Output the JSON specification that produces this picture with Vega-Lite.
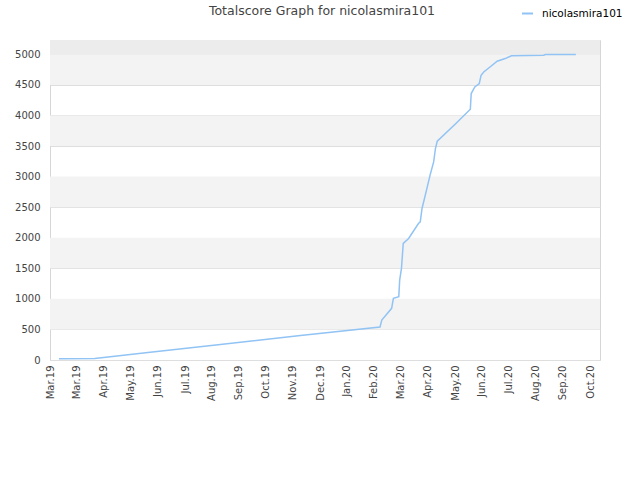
{
  "$schema": "https://vega.github.io/schema/vega-lite/v6.json",
  "width": 550,
  "height": 320,
  "autosize": {"type": "none"},
  "padding": {"left": 50, "top": 40, "right": 40, "bottom": 120},
  "background": "white",
  "title": {"text": "Totalscore Graph for nicolasmira101", "anchor": "middle", "fontSize": 12.5, "fontWeight": "normal", "color": "#444444", "font": "DejaVu Sans", "offset": 0, "dy": 10, "dx": -3},
  "config": {
    "view": {"stroke": "#d6d6d6", "strokeWidth": 1},
    "font": "DejaVu Sans",
    "axisY": {
      "title": null, "values": [0, 500, 1000, 1500, 2000, 2500, 3000, 3500, 4000, 4500, 5000], "format": "d",
      "labelFontSize": 10, "labelColor": "#444444", "labelPadding": 10, "ticks": false, "domain": false,
      "grid": true, "gridColor": "#dedede", "gridWidth": 1
    }
  },
  "datasets": {
    "bands": [
      {"lo": 500, "hi": 1000, "kind": "a"},
      {"lo": 1500, "hi": 2000, "kind": "a"},
      {"lo": 2500, "hi": 3000, "kind": "a"},
      {"lo": 3500, "hi": 4000, "kind": "a"},
      {"lo": 4500, "hi": 5000, "kind": "a"},
      {"lo": 5000, "hi": 5234, "kind": "b"}
    ],
    "scores": [
      {"date": "2019-03-11", "score": 20, "player": "nicolasmira101"},
      {"date": "2019-04-20", "score": 25, "player": "nicolasmira101"},
      {"date": "2019-06-21", "score": 126, "player": "nicolasmira101"},
      {"date": "2019-09-05", "score": 250, "player": "nicolasmira101"},
      {"date": "2019-12-06", "score": 400, "player": "nicolasmira101"},
      {"date": "2020-03-04", "score": 540, "player": "nicolasmira101"},
      {"date": "2020-03-06", "score": 654, "player": "nicolasmira101"},
      {"date": "2020-03-17", "score": 845, "player": "nicolasmira101"},
      {"date": "2020-03-19", "score": 1008, "player": "nicolasmira101"},
      {"date": "2020-03-25", "score": 1035, "player": "nicolasmira101"},
      {"date": "2020-03-26", "score": 1307, "player": "nicolasmira101"},
      {"date": "2020-03-28", "score": 1498, "player": "nicolasmira101"},
      {"date": "2020-03-30", "score": 1907, "player": "nicolasmira101"},
      {"date": "2020-04-05", "score": 1988, "player": "nicolasmira101"},
      {"date": "2020-04-16", "score": 2233, "player": "nicolasmira101"},
      {"date": "2020-04-18", "score": 2260, "player": "nicolasmira101"},
      {"date": "2020-04-20", "score": 2478, "player": "nicolasmira101"},
      {"date": "2020-04-25", "score": 2778, "player": "nicolasmira101"},
      {"date": "2020-04-29", "score": 3023, "player": "nicolasmira101"},
      {"date": "2020-05-03", "score": 3240, "player": "nicolasmira101"},
      {"date": "2020-05-05", "score": 3459, "player": "nicolasmira101"},
      {"date": "2020-05-07", "score": 3578, "player": "nicolasmira101"},
      {"date": "2020-05-27", "score": 3856, "player": "nicolasmira101"},
      {"date": "2020-06-13", "score": 4101, "player": "nicolasmira101"},
      {"date": "2020-06-14", "score": 4358, "player": "nicolasmira101"},
      {"date": "2020-06-18", "score": 4466, "player": "nicolasmira101"},
      {"date": "2020-06-23", "score": 4520, "player": "nicolasmira101"},
      {"date": "2020-06-25", "score": 4657, "player": "nicolasmira101"},
      {"date": "2020-06-28", "score": 4711, "player": "nicolasmira101"},
      {"date": "2020-07-05", "score": 4793, "player": "nicolasmira101"},
      {"date": "2020-07-13", "score": 4886, "player": "nicolasmira101"},
      {"date": "2020-07-22", "score": 4930, "player": "nicolasmira101"},
      {"date": "2020-07-29", "score": 4976, "player": "nicolasmira101"},
      {"date": "2020-09-03", "score": 4984, "player": "nicolasmira101"},
      {"date": "2020-09-05", "score": 4995, "player": "nicolasmira101"},
      {"date": "2020-10-09", "score": 4995, "player": "nicolasmira101"}
    ]
  },
  "layer": [
    {
      "data": {"name": "bands"},
      "transform": [{"filter": "datum.kind === 'a'"}],
      "mark": {"type": "rect", "color": "#f3f3f3"},
      "encoding": {
        "y": {"field": "lo", "type": "quantitative", "title": null, "scale": {"domain": [0, 5234], "nice": false}},
        "y2": {"field": "hi"}
      }
    },
    {
      "data": {"name": "bands"},
      "transform": [{"filter": "datum.kind === 'b'"}],
      "mark": {"type": "rect", "color": "#ececec"},
      "encoding": {
        "y": {"field": "lo", "type": "quantitative", "title": null, "scale": {"domain": [0, 5234], "nice": false}},
        "y2": {"field": "hi"}
      }
    },
    {
      "data": {"name": "scores"},
      "mark": {"type": "line", "strokeWidth": 1.5, "interpolate": "linear"},
      "encoding": {
        "x": {
          "field": "date", "type": "temporal",
          "scale": {"type": "utc", "domain": [{"year": 2019, "month": 3, "date": 1, "utc": true}, {"year": 2020, "month": 11, "date": 5, "utc": true}]},
          "axis": {
            "title": null, "format": "%b.%y", "labelAngle": -90, "labelAlign": "right", "labelBaseline": "middle",
            "labelFontSize": 10, "labelColor": "#444444", "labelPadding": 5, "ticks": false, "domain": false, "grid": false, "labelOverlap": false, "labelFlush": false,
            "values": [
              {"year": 2019, "month": 3, "date": 1, "utc": true},
              {"year": 2019, "month": 3, "date": 31, "utc": true},
              {"year": 2019, "month": 4, "date": 30, "utc": true},
              {"year": 2019, "month": 5, "date": 30, "utc": true},
              {"year": 2019, "month": 6, "date": 29, "utc": true},
              {"year": 2019, "month": 7, "date": 30, "utc": true},
              {"year": 2019, "month": 8, "date": 29, "utc": true},
              {"year": 2019, "month": 9, "date": 28, "utc": true},
              {"year": 2019, "month": 10, "date": 28, "utc": true},
              {"year": 2019, "month": 11, "date": 27, "utc": true},
              {"year": 2019, "month": 12, "date": 28, "utc": true},
              {"year": 2020, "month": 1, "date": 27, "utc": true},
              {"year": 2020, "month": 2, "date": 26, "utc": true},
              {"year": 2020, "month": 3, "date": 27, "utc": true},
              {"year": 2020, "month": 4, "date": 26, "utc": true},
              {"year": 2020, "month": 5, "date": 27, "utc": true},
              {"year": 2020, "month": 6, "date": 26, "utc": true},
              {"year": 2020, "month": 7, "date": 26, "utc": true},
              {"year": 2020, "month": 8, "date": 25, "utc": true},
              {"year": 2020, "month": 9, "date": 24, "utc": true},
              {"year": 2020, "month": 10, "date": 25, "utc": true}
            ]
          }
        },
        "y": {
          "field": "score", "type": "quantitative", "title": null,
          "scale": {"domain": [0, 5234], "nice": false}
        },
        "color": {
          "field": "player", "type": "nominal",
          "scale": {"range": ["#91c3f4"]},
          "legend": {
            "title": null, "orient": "none", "legendX": 471, "legendY": -33, "padding": 0,
            "symbolType": "stroke", "symbolStrokeWidth": 2, "symbolSize": 121, "labelOffset": 8,
            "labelFontSize": 10.5, "labelColor": "#000000", "labelFont": "DejaVu Sans"
          }
        }
      }
    }
  ]
}
